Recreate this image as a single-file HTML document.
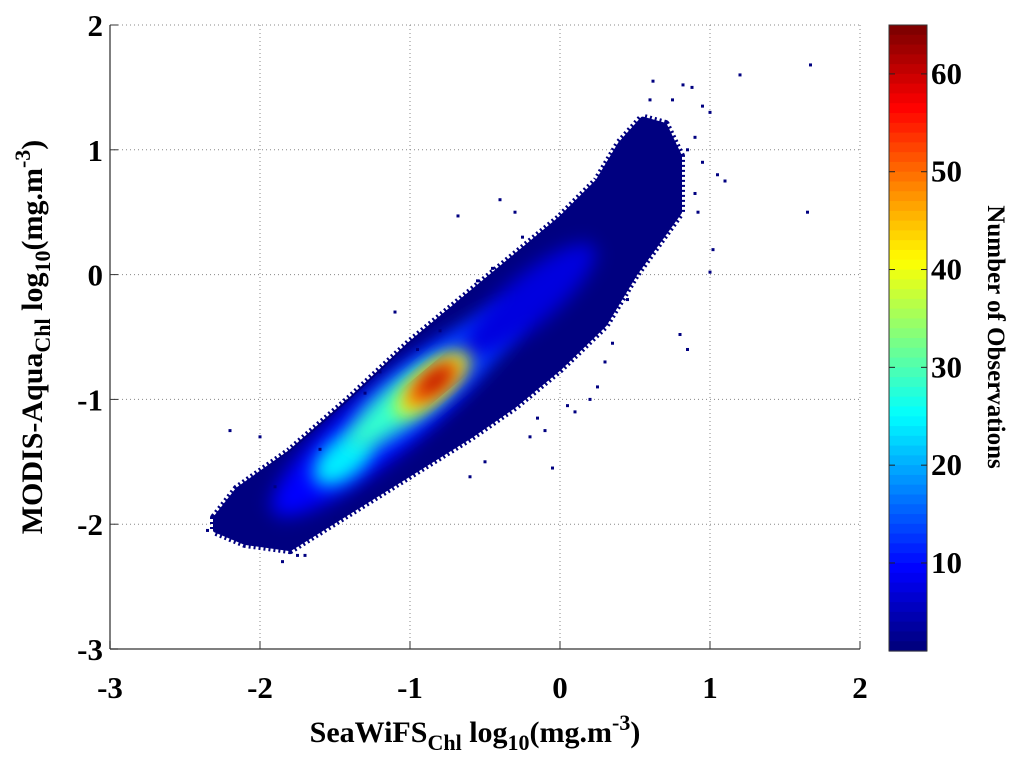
<!DOCTYPE html>
<html><head><meta charset="utf-8">
<style>
html,body{margin:0;padding:0;background:#fff;}
svg{display:block;font-family:"Liberation Serif",serif;font-weight:bold;}
</style></head>
<body>
<svg id="chart" width="1024" height="758" viewBox="0 0 1024 758" xmlns="http://www.w3.org/2000/svg">
<defs>
<filter id="blur8" x="-50%" y="-50%" width="200%" height="200%"><feGaussianBlur stdDeviation="9"/></filter>
<clipPath id="plotclip"><rect x="110" y="25" width="750" height="624"/></clipPath>
<clipPath id="cloudclip"><polygon id="cloudclippoly" points=""/></clipPath>
</defs>
<g id="grid"></g>
<g id="marks" clip-path="url(#plotclip)"></g>
<g id="axes"></g>
<g id="cbar"></g>
<text x="475" y="742" text-anchor="middle" font-size="30">SeaWiFS<tspan font-size="22" dy="8">Chl</tspan><tspan dy="-8"> log</tspan><tspan font-size="22" dy="8">10</tspan><tspan dy="-8">(mg.m</tspan><tspan font-size="22" dy="-12">-3</tspan><tspan dy="12">)</tspan></text>
<text transform="translate(42,337) rotate(-90)" text-anchor="middle" font-size="30">MODIS-Aqua<tspan font-size="22" dy="8">Chl</tspan><tspan dy="-8"> log</tspan><tspan font-size="22" dy="8">10</tspan><tspan dy="-8">(mg.m</tspan><tspan font-size="22" dy="-12">-3</tspan><tspan dy="12">)</tspan></text>
<text transform="translate(988,337) rotate(90)" text-anchor="middle" font-size="25">Number of Observations</text>
</svg>
<script>
// ---- data ----
const xTicks = [-3,-2,-1,0,1,2];
const yTicks = [-3,-2,-1,0,1,2];
const cbarTicks = [10,20,30,40,50,60];
const cbarMin = 1, cbarMax = 65;
// cloud outline (data units)
const upperX = [-2.3,-2.15,-1.8,-1.4,-1.0,-0.6,-0.3,0.0,0.25,0.4,0.55,0.7,0.8];
const upperY = [-1.95,-1.72,-1.42,-1.0,-0.55,-0.15,0.15,0.45,0.75,1.05,1.25,1.2,0.95];
const lowerX = [0.8,0.65,0.5,0.3,0.0,-0.3,-0.6,-1.0,-1.4,-1.8,-2.1,-2.3];
const lowerY = [0.5,0.25,0.0,-0.4,-0.75,-1.05,-1.3,-1.6,-1.9,-2.2,-2.15,-2.05];
// density blobs: center x, center y, half-length along diagonal, half-width, count level
const blobX = [-1.2,-0.9,-0.2,-1.45,-1.05,-0.85,-0.85,-0.83];
const blobY = [-1.2,-0.9,-0.2,-1.48,-1.02,-0.88,-0.87,-0.85];
const blobL = [1.0,0.9,0.6,0.25,0.5,0.34,0.24,0.15];
const blobW = [0.25,0.2,0.18,0.14,0.15,0.11,0.08,0.055];
const blobV = [9,13,7,24,28,40,52,62];
// outlier points
const outX = [1.67,1.65,1.2,1.0,0.95,0.88,0.82,0.75,1.1,0.9,1.02,0.92,1.0,0.85,0.8,0.62,0.6,0.7,-0.68,-0.4,-0.3,-0.2,-0.1,0.05,0.2,0.25,-2.35,-2.2,-2.0,-1.9,-1.6,-1.3,-1.2,-0.95,-0.6,-0.5,-0.05,0.1,0.3,-1.85,-1.7,-2.25,0.9,0.85,0.95,1.05,-0.8,-0.55,-0.45,-0.25,0.35,0.45,-1.5,-1.75,-1.1,-0.15];
const outY = [1.68,0.5,1.6,1.3,1.35,1.5,1.52,1.4,0.75,0.65,0.2,0.5,0.02,-0.6,-0.48,1.55,1.4,1.2,0.47,0.6,0.5,-1.3,-1.25,-1.05,-1.0,-0.9,-2.05,-1.25,-1.3,-1.7,-1.4,-0.95,-0.78,-0.6,-1.62,-1.5,-1.55,-1.1,-0.7,-2.3,-2.25,-1.9,1.1,1.0,0.9,0.8,-0.45,-0.05,0.05,0.3,-0.55,-0.2,-1.95,-2.25,-0.3,-1.15];
// ---- scales ----
const X = v => 110 + (v + 3) * 150;
const Y = v => 649 - (v + 3) * 124.8;
const NS = "http://www.w3.org/2000/svg";
function mk(tag, attrs, parent){const e=document.createElementNS(NS,tag);for(const k in attrs)e.setAttribute(k,attrs[k]);parent.appendChild(e);return e;}
function jet(t){t=Math.max(0,Math.min(1,t));const r=Math.max(0,Math.min(1,1.5-Math.abs(4*t-3))),g=Math.max(0,Math.min(1,1.5-Math.abs(4*t-2))),b=Math.max(0,Math.min(1,1.5-Math.abs(4*t-1)));return `rgb(${Math.round(r*255)},${Math.round(g*255)},${Math.round(b*255)})`;}
const cnorm = v => (v - cbarMin) / (cbarMax - cbarMin);
const grid = document.getElementById('grid'), marks = document.getElementById('marks'), axes = document.getElementById('axes'), cbar = document.getElementById('cbar');
// grid
xTicks.forEach(t => { const g = mk('line',{x1:X(t),x2:X(t),y1:25,y2:649,stroke:'#888','stroke-width':1,'stroke-dasharray':'1 3'},grid);

 });
yTicks.forEach(t => { const g = mk('line',{x1:110,x2:860,y1:Y(t),y2:Y(t),stroke:'#888','stroke-width':1,'stroke-dasharray':'1 3'},grid);

 });
// cloud body
let pts = [];
for (let i=0;i<upperX.length;i++) pts.push(X(upperX[i])+','+Y(upperY[i]));
for (let i=0;i<lowerX.length;i++) pts.push(X(lowerX[i])+','+Y(lowerY[i]));
document.getElementById('cloudclippoly').setAttribute('points', pts.join(' '));
const dark = jet(cnorm(1));
const halo = mk('polygon',{points:pts.join(' '),fill:dark,stroke:dark,'stroke-width':10,'stroke-dasharray':'2 3','stroke-linejoin':'round'},marks);


const body = mk('polygon',{points:pts.join(' '),fill:dark,stroke:dark,'stroke-width':4,'stroke-linejoin':'round'},marks);


// density blobs
const dens = mk('g',{'clip-path':'url(#cloudclip)'},marks);


const ang = -Math.atan2(124.8,150)*180/Math.PI;
for (let i=0;i<blobX.length;i++){
  const rx = blobL[i]*Math.hypot(150,124.8)/Math.SQRT2, ry = blobW[i]*Math.hypot(150,124.8)/Math.SQRT2;
  const e = mk('ellipse',{cx:X(blobX[i]),cy:Y(blobY[i]),rx:rx,ry:ry,fill:jet(cnorm(blobV[i])),filter:'url(#blur8)',transform:`rotate(${ang} ${X(blobX[i])} ${Y(blobY[i])})`},dens);
  
  
}
// outliers
for (let i=0;i<outX.length;i++){
  const p = mk('rect',{x:X(outX[i])-1.5,y:Y(outY[i])-1.5,width:3,height:3,fill:dark},marks);
  
  
}
// axes
mk('line',{x1:110,x2:860,y1:649,y2:649,stroke:'#555','stroke-width':1.5},axes);
mk('line',{x1:110,x2:110,y1:25,y2:649,stroke:'#555','stroke-width':1.5},axes);
xTicks.forEach(t => {
  mk('line',{x1:X(t),x2:X(t),y1:649,y2:641,stroke:'#333'},axes);
  const l = mk('text',{x:X(t),y:698,'text-anchor':'middle','font-size':31},axes); l.textContent=t;
  
  
});
yTicks.forEach(t => {
  mk('line',{x1:110,x2:118,y1:Y(t),y2:Y(t),stroke:'#333'},axes);
  const l = mk('text',{x:103,y:Y(t)+11,'text-anchor':'end','font-size':31},axes); l.textContent=t;
  
  
});
// colorbar
const cbTop=25, cbBot=651, cbX=889, cbW=38;
const C = v => cbBot - (v - cbarMin)/(cbarMax-cbarMin)*(cbBot-cbTop);
for (let i=0;i<64;i++){
  const y0 = cbTop + i*(cbBot-cbTop)/64;
  mk('rect',{x:cbX,y:y0,width:cbW,height:(cbBot-cbTop)/64+0.6,fill:jet(1-i/63)},cbar);
}
mk('rect',{x:cbX,y:cbTop,width:cbW,height:cbBot-cbTop,fill:'none',stroke:'#333','stroke-width':1},cbar);
cbarTicks.forEach(t => {
  mk('line',{x1:cbX,x2:cbX+6,y1:C(t),y2:C(t),stroke:'#222'},cbar);
  mk('line',{x1:cbX+cbW-6,x2:cbX+cbW,y1:C(t),y2:C(t),stroke:'#222'},cbar);
  const l = mk('text',{x:931,y:C(t)+10,'font-size':31},cbar); l.textContent=t;
  
  
});
</script>
</body></html>
